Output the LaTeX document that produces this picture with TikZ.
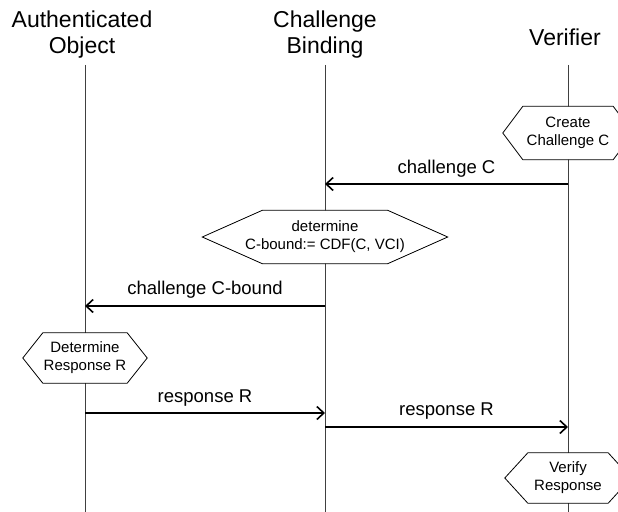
\documentclass[tikz,border=0pt]{standalone}
\usepackage{fontspec}
\setmainfont{Liberation Sans}
\usetikzlibrary{arrows.meta, positioning, backgrounds}

\begin{document}
\begin{tikzpicture}[
    x=1pt, y=-1pt,
    head/.style={align=center, font=\fontsize{23}{26}\selectfont, inner sep=0pt},
    life/.style={draw=black!75, line width=1pt},
    hexbox/.style={rectangle, align=center, font=\fontsize{15}{18}\selectfont, inner sep=0pt},
    hexline/.style={draw, fill=white, line width=0.8pt},
    msg/.style={-{Straight Barb[length=7pt, width=13pt, line width=1.6pt]}, line width=2pt},
    lbl/.style={font=\fontsize{18.5}{22}\selectfont, inner sep=0pt},
]
    \useasboundingbox (0,0) rectangle (618,511);

    % Heads
    \node[head] (authobj) at (82,35) {Authenticated\\Object};
    \node[head] (binding) at (325,35) {Challenge\\Binding};
    \node[head] (verifier) at (565,37) {Verifier};

    % Actions
    \node[hexbox, minimum width=130pt, minimum height=53pt] (create) at (568,133) {Create\\Challenge C};
    \node[hexbox, minimum width=245pt, minimum height=53pt] (determine) at (325,237) {determine\\C-bound:= CDF(C, VCI)};
    \node[hexbox, minimum width=124pt, minimum height=50pt] (detresp) at (85,358) {Determine\\Response R};
    \node[hexbox, minimum width=126pt, minimum height=50pt] (verify) at (568,478) {Verify\\Response};

    % Lifelines and hexagons behind the text
    \coordinate (ao top) at (85,65);
    \coordinate (ao bot) at (85,515);
    \coordinate (cb top) at (325,65);
    \coordinate (cb bot) at (325,515);
    \coordinate (vf top) at (568,65);
    \coordinate (vf bot) at (568,515);
    \begin{scope}[on background layer]
        \draw[life] (ao top) -- (ao bot);
        \draw[life] (cb top) -- (cb bot);
        \draw[life] (vf top) -- (vf bot);
        \foreach \n/\t in {create/20, determine/60, detresp/20, verify/23}
            \draw[hexline] (\n.west) -- ([xshift=\t pt]\n.north west) -- ([xshift=-\t pt]\n.north east)
                -- (\n.east) -- ([xshift=-\t pt]\n.south east) -- ([xshift=\t pt]\n.south west) -- cycle;
    \end{scope}

    % Messages
    \coordinate (vf c) at (568,184);
    \coordinate (cb c) at (325,184);
    \coordinate (cb b) at (325,306);
    \coordinate (ao b) at (85,306);
    \coordinate (ao r) at (85,413);
    \coordinate (cb r) at (325,413);
    \coordinate (cb r2) at (325,427);
    \coordinate (vf r) at (568,427);
    \draw[msg] (vf c) -- node[lbl, above=6pt]{challenge C} (cb c);
    \draw[msg] (cb b) -- node[lbl, above=7pt]{challenge C-bound} (ao b);
    \draw[msg] (ao r) -- node[lbl, above=6pt]{response R} (cb r);
    \draw[msg] (cb r2) -- node[lbl, above=7pt]{response R} (vf r);

\end{tikzpicture}
\end{document}
